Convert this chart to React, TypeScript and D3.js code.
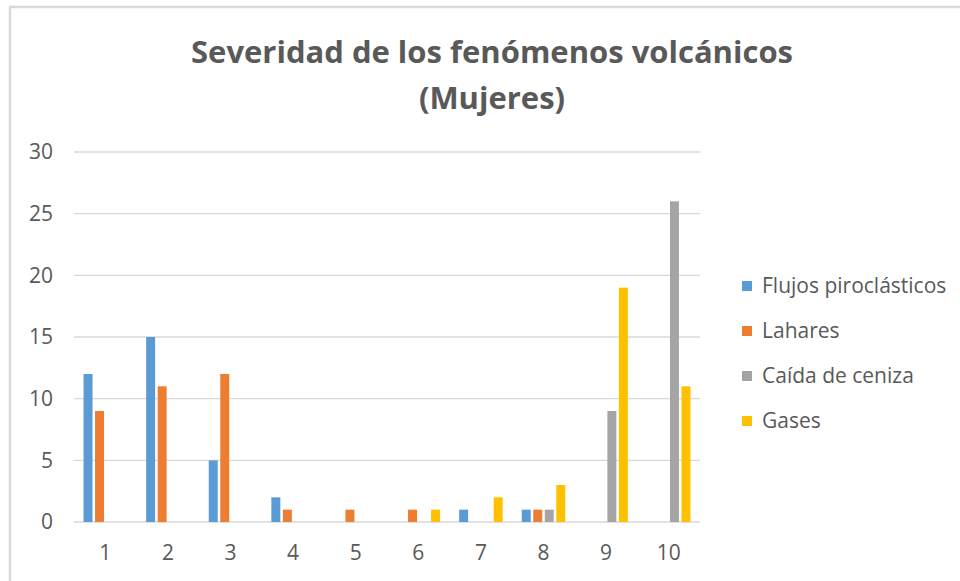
import React from "react";
import * as d3 from "d3";

const categories = ["1", "2", "3", "4", "5", "6", "7", "8", "9", "10"];
const seriesNames = ["Flujos piroclásticos", "Lahares", "Caída de ceniza", "Gases"];
const flujos = [12, 15, 5, 2, 0, 0, 1, 1, 0, 0];
const lahares = [9, 11, 12, 1, 1, 1, 0, 1, 0, 0];
const caida = [0, 0, 0, 0, 0, 0, 0, 1, 9, 26];
const gases = [0, 0, 0, 0, 0, 1, 2, 3, 19, 11];
const yTicks = [0, 5, 10, 15, 20, 25, 30];
const colors = ["#5b9bd5", "#ed7d31", "#a5a5a5", "#ffc000"];
const titleLines = ["Severidad de los fenómenos volcánicos", "(Mujeres)"];

const W = 960;
const H = 581;
const plot = { left: 74, right: 700, top: 152, bottom: 522 };
const FONT = "Open Sans, Calibri, Carlito, sans-serif";

export default function App() {
  const series = [flujos, lahares, caida, gases];
  const x = d3.scaleBand<string>().domain(categories).range([plot.left, plot.right]).padding(0);
  const groupW = x.bandwidth() * 0.695;
  const inner = d3
    .scaleBand<number>()
    .domain(d3.range(series.length))
    .range([0, groupW])
    .paddingInner(0.22)
    .paddingOuter(0);
  const y = d3.scaleLinear().domain([0, 30]).range([plot.bottom, plot.top]);

  return (
    <svg
      width={W}
      height={H}
      style={{ position: "absolute", left: 0, top: 0, background: "#fff" }}
      fontFamily={FONT}
    >
      <rect x={0} y={0} width={W} height={H} fill="#fff" />
      {/* chart border */}
      <line x1={10} y1={7} x2={10} y2={H} stroke="#d9d9d9" strokeWidth={2.5} />
      <line x1={9} y1={7} x2={W} y2={7} stroke="#d9d9d9" strokeWidth={2.5} />

      {/* title */}
      {titleLines.map((t, i) => (
        <text
          key={i}
          x={492}
          y={63 + i * 46}
          textAnchor="middle"
          fontSize={31}
          fontWeight={700}
          fill="#595959"
        >
          {t}
        </text>
      ))}

      {/* gridlines */}
      {yTicks.map((t) => (
        <line
          key={t}
          x1={plot.left}
          x2={plot.right}
          y1={y(t)}
          y2={y(t)}
          stroke="#d9d9d9"
          strokeWidth={1.3}
        />
      ))}
      {/* y labels */}
      {yTicks.map((t) => (
        <text
          key={"l" + t}
          x={53}
          y={y(t)}
          dy="0.35em"
          textAnchor="end"
          fontSize={21}
          fill="#595959"
        >
          {t}
        </text>
      ))}

      {/* bars */}
      {series.map((vals, si) =>
        vals.map((v, ci) => {
          if (v <= 0) return null;
          const cx = (x(categories[ci]) as number) + x.bandwidth() / 2;
          const bx = cx - groupW / 2 + (inner(si) as number);
          return (
            <rect
              key={si + "-" + ci}
              x={bx}
              y={y(v)}
              width={inner.bandwidth()}
              height={y(0) - y(v)}
              fill={colors[si]}
            />
          );
        })
      )}

      {/* x labels */}
      {categories.map((c) => (
        <text
          key={"x" + c}
          x={(x(c) as number) + x.bandwidth() / 2}
          y={553}
          dy="0.35em"
          textAnchor="middle"
          fontSize={21}
          fill="#595959"
        >
          {c}
        </text>
      ))}

      {/* legend */}
      {seriesNames.map((n, i) => {
        const ly = 286 + i * 45;
        return (
          <g key={n}>
            <rect x={742} y={ly - 5} width={10} height={10} fill={colors[i]} />
            <text x={762} y={ly} dy="0.35em" fontSize={21} fill="#595959">
              {n}
            </text>
          </g>
        );
      })}
    </svg>
  );
}
